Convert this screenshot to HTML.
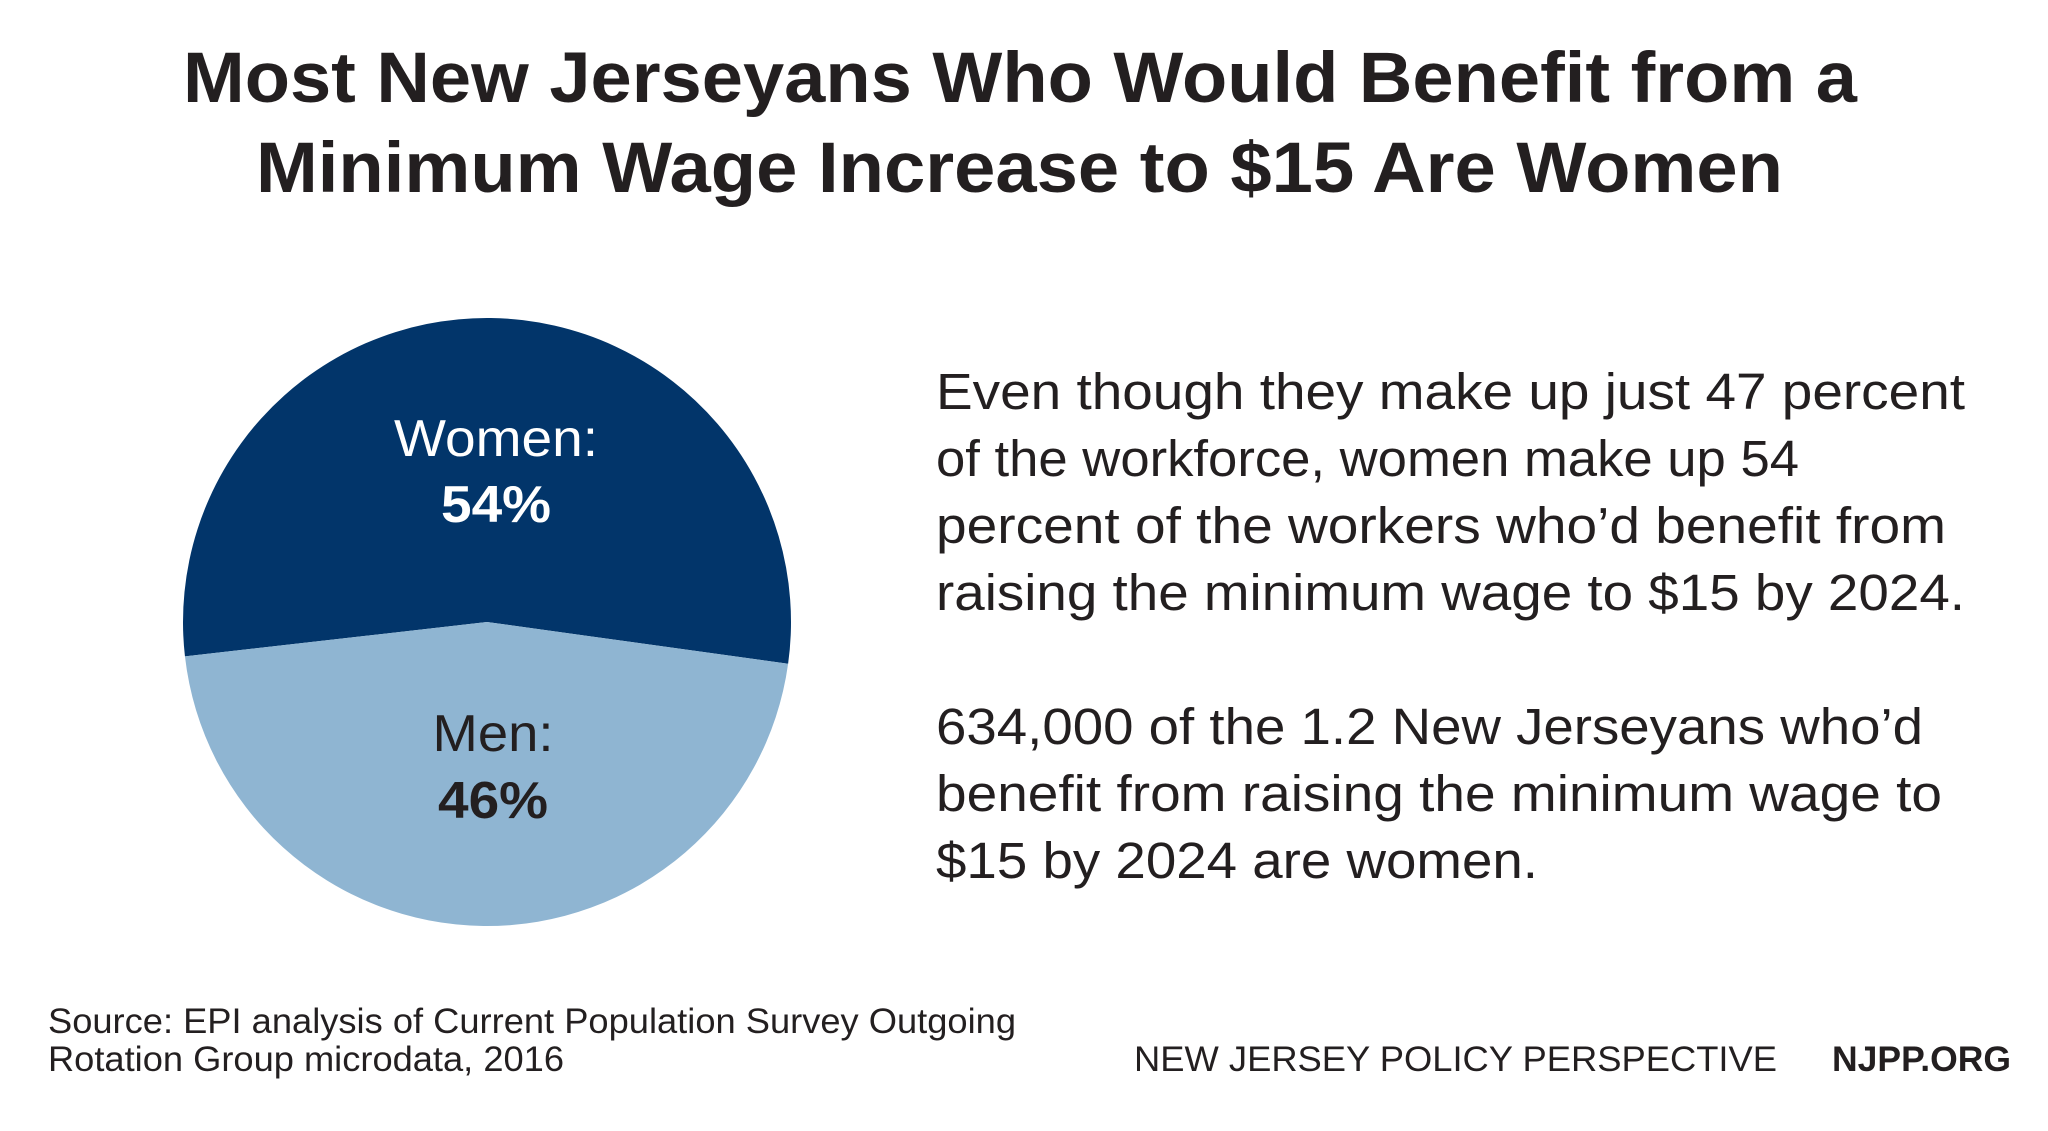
<!DOCTYPE html>
<html><head><meta charset="utf-8"><style>
html,body{margin:0;padding:0;background:#fff;}
svg{display:block;}
text{font-family:"Liberation Sans",Arial,sans-serif;fill:#231f20;}
</style></head><body>
<svg id="chart" width="2048" height="1131" viewBox="0 0 2048 1131">
<text x="183" y="102" font-size="71" font-weight="bold" textLength="1674" lengthAdjust="spacingAndGlyphs">Most New Jerseyans Who Would Benefit from a</text>
<text x="256" y="192" font-size="71" font-weight="bold" textLength="1527" lengthAdjust="spacingAndGlyphs">Minimum Wage Increase to $15 Are Women</text>
<g id="pie"></g>
<g font-size="51" lengthAdjust="spacingAndGlyphs">
<text x="936" y="409" textLength="1029" lengthAdjust="spacingAndGlyphs">Even though they make up just 47 percent</text>
<text x="936" y="476" textLength="863" lengthAdjust="spacingAndGlyphs">of the workforce, women make up 54</text>
<text x="936" y="543" textLength="1010" lengthAdjust="spacingAndGlyphs">percent of the workers who’d benefit from</text>
<text x="936" y="610" textLength="1029" lengthAdjust="spacingAndGlyphs">raising the minimum wage to $15 by 2024.</text>
<text x="936" y="744" textLength="987" lengthAdjust="spacingAndGlyphs">634,000 of the 1.2 New Jerseyans who’d</text>
<text x="936" y="811" textLength="1006" lengthAdjust="spacingAndGlyphs">benefit from raising the minimum wage to</text>
<text x="936" y="878" textLength="602" lengthAdjust="spacingAndGlyphs">$15 by 2024 are women.</text>
</g>
<g font-size="35">
<text x="48" y="1033" textLength="968" lengthAdjust="spacingAndGlyphs">Source: EPI analysis of Current Population Survey Outgoing</text>
<text x="48" y="1071" textLength="516" lengthAdjust="spacingAndGlyphs">Rotation Group microdata, 2016</text>
</g>
<text x="1134" y="1071" font-size="35" textLength="643" lengthAdjust="spacingAndGlyphs">NEW JERSEY POLICY PERSPECTIVE</text>
<text x="1832" y="1071" font-size="35" font-weight="bold" textLength="179" lengthAdjust="spacingAndGlyphs">NJPP.ORG</text>
</svg>
<script>
const categories = ["Women", "Men"];
const shares = [54, 46];
const sliceColors = ["#02356a", "#8fb5d2"];
const labelColors = ["#ffffff", "#231f20"];
const ns = "http://www.w3.org/2000/svg";
const g = document.getElementById("pie");
const cx = 487, cy = 622, r = 304;
const total = shares.reduce((a, b) => a + b, 0);
let ang = 7.9 * Math.PI / 180;
const pt = a => [cx + r * Math.cos(a), cy + r * Math.sin(a)];
shares.forEach((v, i) => {
  const sweep = v / total * 2 * Math.PI;
  const a0 = ang, a1 = ang - sweep;
  const [x0, y0] = pt(a0), [x1, y1] = pt(a1);
  const large = sweep > Math.PI ? 1 : 0;
  const p = document.createElementNS(ns, "path");
  p.setAttribute("d", `M${cx},${cy} L${x0},${y0} A${r},${r} 0 ${large} 0 ${x1},${y1} Z`);
  p.setAttribute("fill", sliceColors[i]);
  
  
  g.appendChild(p);
  ang = a1;
});
const labelY = [[456, 522], [751, 818]];
const labelX = [496, 493];
const nameWidths = [204, 121];
categories.forEach((c, i) => {
  const t1 = document.createElementNS(ns, "text");
  t1.setAttribute("x", labelX[i]); t1.setAttribute("y", labelY[i][0]);
  t1.setAttribute("text-anchor", "middle"); t1.setAttribute("font-size", "52");
  t1.setAttribute("textLength", nameWidths[i]);
  t1.setAttribute("lengthAdjust", "spacingAndGlyphs");
  t1.style.fill = labelColors[i];
  t1.textContent = c + ":";
  
  
  g.appendChild(t1);
  const t2 = document.createElementNS(ns, "text");
  t2.setAttribute("x", labelX[i]); t2.setAttribute("y", labelY[i][1]);
  t2.setAttribute("text-anchor", "middle"); t2.setAttribute("font-size", "52");
  t2.setAttribute("font-weight", "bold");
  t2.setAttribute("textLength", "110");
  t2.setAttribute("lengthAdjust", "spacingAndGlyphs");
  t2.style.fill = labelColors[i];
  t2.textContent = shares[i] + "%";
  
  
  g.appendChild(t2);
});
</script>
</body></html>
